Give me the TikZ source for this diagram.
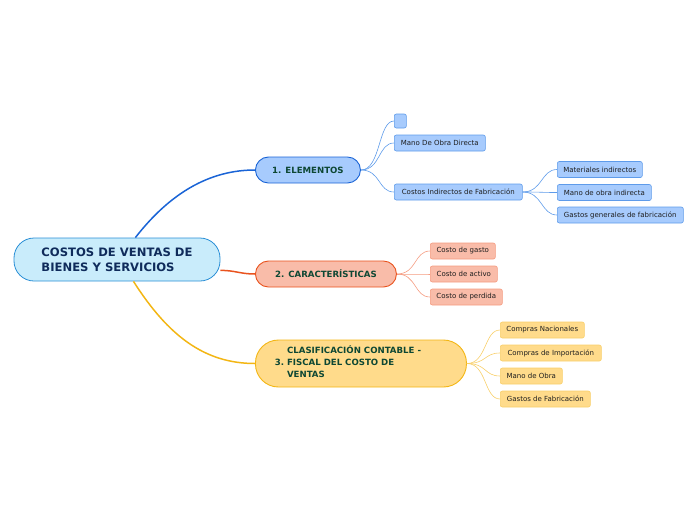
\documentclass[tikz,border=0pt]{standalone}
\usepackage{fontspec}
\setmainfont{DejaVu Sans}
\definecolor{rootfill}{HTML}{C9ECFB}
\definecolor{rootline}{HTML}{2A8FD6}
\definecolor{roottext}{HTML}{0F2B5B}
\definecolor{bluefill}{HTML}{A7CBFD}
\definecolor{blueline}{HTML}{1A64D6}
\definecolor{blueleaf}{HTML}{5E9BEA}
\definecolor{redfill}{HTML}{F9BCA9}
\definecolor{redline}{HTML}{E9531E}
\definecolor{redleaf}{HTML}{F59B80}
\definecolor{yelfill}{HTML}{FFDB8B}
\definecolor{yelline}{HTML}{F3B614}
\definecolor{yelleaf}{HTML}{F8CF6A}
\definecolor{branchtext}{HTML}{0D4733}
\definecolor{leaftext}{HTML}{1E1E1E}
\tikzset{
  rootbox/.style={draw=rootline, fill=rootfill, line width=0.8pt, rounded corners=20pt,
    minimum width=206pt, minimum height=43pt, align=left, text=roottext,
    font=\fontsize{11.6}{15}\selectfont\bfseries},
  mainbox/.style={line width=0.9pt, rounded corners=13pt, minimum height=26pt,
    inner xsep=8pt, text=branchtext, font=\fontsize{8.6}{12}\selectfont\bfseries},
  leafbox/.style={line width=0.6pt, rounded corners=2pt, minimum height=16pt,
    inner xsep=3pt, text=leaftext, font=\fontsize{7}{8}\selectfont},
  mainlink/.style={line width=1.5pt},
  leaflink/.style={line width=0.6pt}
}
\begin{document}
\begin{tikzpicture}[x=1pt,y=-1pt]
    \useasboundingbox (0,0) rectangle (696,520);

    \node [rootbox] (root) at (117,259.5) {COSTOS DE VENTAS DE\\BIENES Y SERVICIOS};

    \node [mainbox, draw=blueline, fill=bluefill, anchor=west, minimum width=105pt] (elem) at (255,170) {1. ELEMENTOS};
    \node [mainbox, draw=redline, fill=redfill, anchor=west, minimum width=141pt] (carac) at (255,274) {2. CARACTERÍSTICAS};
    \node [mainbox, draw=yelline, fill=yelfill, anchor=west, rounded corners=23pt,
        minimum height=47pt, minimum width=211pt] (clasif) at (255,363.5)
        {3.\ \begin{tabular}{@{}l@{}}CLASIFICACIÓN CONTABLE -\\FISCAL DEL COSTO DE\\VENTAS\end{tabular}\rule{26pt}{0pt}};

    % elementos
    \node [leafbox, draw=blueleaf, fill=bluefill, anchor=west, minimum width=12pt, minimum height=14pt] (blank) at (394,121) {};
    \node [leafbox, draw=blueleaf, fill=bluefill, anchor=west, minimum width=91pt] (mod) at (394,143) {Mano De Obra Directa};
    \node [leafbox, draw=blueleaf, fill=bluefill, anchor=west, minimum width=128pt] (cif) at (394,192) {Costos Indirectos de Fabricación};
    \node [leafbox, draw=blueleaf, fill=bluefill, anchor=west, minimum width=85pt] (matind) at (557,169.5) {Materiales indirectos};
    \node [leafbox, draw=blueleaf, fill=bluefill, anchor=west, minimum width=94pt] (moind) at (557,192.5) {Mano de obra indirecta};
    \node [leafbox, draw=blueleaf, fill=bluefill, anchor=west, minimum width=126pt] (ggf) at (557,215) {Gastos generales de fabricación};

    % caracteristicas
    \node [leafbox, draw=redleaf, fill=redfill, anchor=west, minimum width=65pt] (cgasto) at (430,251) {Costo de gasto};
    \node [leafbox, draw=redleaf, fill=redfill, anchor=west, minimum width=67pt] (cactivo) at (430,274) {Costo de activo};
    \node [leafbox, draw=redleaf, fill=redfill, anchor=west, minimum width=72pt] (cperd) at (430,297) {Costo de perdida};

    % clasificacion
    \node [leafbox, draw=yelleaf, fill=yelfill, anchor=west, minimum width=84pt] (cnac) at (500,330) {Compras Nacionales};
    \node [leafbox, draw=yelleaf, fill=yelfill, anchor=west, minimum width=101pt] (cimp) at (500,353) {Compras de Importación};
    \node [leafbox, draw=yelleaf, fill=yelfill, anchor=west, minimum width=62pt] (mobra) at (500,376) {Mano de Obra};
    \node [leafbox, draw=yelleaf, fill=yelfill, anchor=west, minimum width=90pt] (gfab) at (500,399) {Gastos de Fabricación};

    \draw [mainlink, blueline] (root.50) .. controls +(35,-45) and +(-45,0) .. (elem.west);
    \draw [mainlink, redline] (root.-6) .. controls +(15,0) and +(-15,0) .. (carac.west);
    \draw [mainlink, yelline] (root.-53) .. controls +(35,55) and +(-50,0) .. (clasif.west);

    \foreach \leaf in {blank,mod,cif}
        \draw [leaflink, blueleaf] (elem.east) .. controls +(20,0) and +(-16,0) .. (\leaf.west);
    \foreach \leaf in {matind,moind,ggf}
        \draw [leaflink, blueleaf] (cif.east) .. controls +(20,0) and +(-16,0) .. (\leaf.west);
    \foreach \leaf in {cgasto,cactivo,cperd}
        \draw [leaflink, redleaf] (carac.east) .. controls +(20,0) and +(-16,0) .. (\leaf.west);
    \foreach \leaf in {cnac,cimp,mobra,gfab}
        \draw [leaflink, yelleaf] (clasif.east) .. controls +(20,0) and +(-16,0) .. (\leaf.west);
\end{tikzpicture}
\end{document}
